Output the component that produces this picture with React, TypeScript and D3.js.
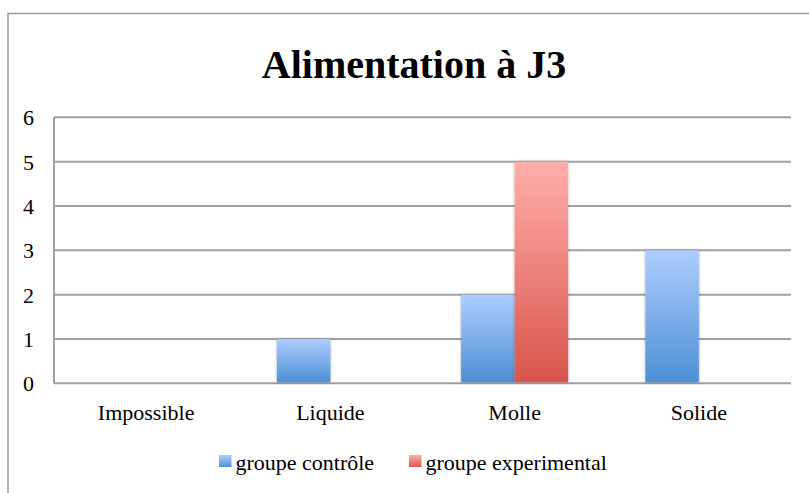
import React from "react";
import * as d3 from "d3";

const categories = ["Impossible", "Liquide", "Molle", "Solide"];
const seriesNames = ["groupe contrôle", "groupe experimental"];
const controle = [0, 1, 2, 3];
const experimental = [0, 0, 5, 0];
const yTicks = [0, 1, 2, 3, 4, 5, 6];
const title = "Alimentation à J3";

const W = 809;
const H = 493;
const plot = { left: 54, right: 791, top: 117.3, bottom: 383.3 };
const FONT = "Liberation Serif, Times New Roman, serif";
const SX = 1.1;

function T({
  x,
  y,
  anchor = "start",
  size = 20,
  weight = "normal",
  sx = SX,
  children,
}: {
  x: number;
  y: number;
  anchor?: string;
  size?: number;
  weight?: string;
  sx?: number;
  children: React.ReactNode;
}) {
  return (
    <text
      transform={`translate(${x},${y}) scale(${sx},1)`}
      textAnchor={anchor}
      fontFamily={FONT}
      fontSize={size}
      fontWeight={weight}
      fill="#000"
    >
      {children}
    </text>
  );
}

export default function App() {
  const x = d3
    .scaleBand<string>()
    .domain(categories)
    .range([plot.left, plot.right])
    .paddingInner(0)
    .paddingOuter(0);
  const y = d3.scaleLinear().domain([0, 6]).range([plot.bottom, plot.top]);
  const bw = 53.5;
  const series = [
    { name: seriesNames[0], values: controle, grad: "gBlue" },
    { name: seriesNames[1], values: experimental, grad: "gRed" },
  ];

  return (
    <svg
      width={W}
      height={H}
      style={{ position: "absolute", left: 0, top: 0, display: "block" }}
    >
      <defs>
        <linearGradient id="gBlue" x1="0" y1="0" x2="0" y2="1">
          <stop offset="0" stopColor="#aecdff" />
          <stop offset="1" stopColor="#4d8fd5" />
        </linearGradient>
        <linearGradient id="gRed" x1="0" y1="0" x2="0" y2="1">
          <stop offset="0" stopColor="#ffaeab" />
          <stop offset="1" stopColor="#d9554b" />
        </linearGradient>
        <filter id="sh" x="-20%" y="-20%" width="140%" height="140%">
          <feGaussianBlur in="SourceAlpha" stdDeviation="1.5" />
          <feComponentTransfer>
            <feFuncA type="linear" slope="0.35" />
          </feComponentTransfer>
          <feMerge>
            <feMergeNode />
            <feMergeNode in="SourceGraphic" />
          </feMerge>
        </filter>
      </defs>
      <rect x={0} y={0} width={W} height={H} fill="#fff" />
      <rect
        x={8}
        y={13.5}
        width={W + 20}
        height={H + 20}
        fill="#fff"
        stroke="#9a9a9a"
        strokeWidth={1.5}
      />
      <T x={414} y={77.5} anchor="middle" size={40} weight="bold" sx={1}>
        {title}
      </T>
      {yTicks.map((t) => (
        <line
          key={t}
          x1={plot.left}
          x2={plot.right}
          y1={y(t)}
          y2={y(t)}
          stroke="#a0a0a0"
          strokeWidth={2}
        />
      ))}
      <line
        x1={plot.left}
        x2={plot.left}
        y1={plot.top}
        y2={plot.bottom}
        stroke="#a0a0a0"
        strokeWidth={2}
      />
      {yTicks.map((t) => (
        <T key={t} x={28.5} y={y(t) + 8} anchor="middle">
          {t}
        </T>
      ))}
      {categories.map((c, i) => {
        const center = (x(c) as number) + x.bandwidth() / 2;
        const start = center - bw;
        return series.map((s, j) =>
          s.values[i] > 0 ? (
            <rect
              key={c + j}
              x={start + j * bw}
              y={y(s.values[i])}
              width={bw}
              height={y(0) - y(s.values[i]) - 1}
              fill={`url(#${s.grad})`}
              filter="url(#sh)"
            />
          ) : null
        );
      })}
      {categories.map((c) => (
        <T key={c} x={(x(c) as number) + x.bandwidth() / 2} y={420} anchor="middle">
          {c}
        </T>
      ))}
      {series.map((s, j) => {
        const lx = j === 0 ? 219 : 409;
        return (
          <g key={s.name}>
            <rect x={lx} y={455} width={12.5} height={12} fill={`url(#${s.grad})`} />
            <T x={lx + 16.5} y={469.5}>
              {s.name}
            </T>
          </g>
        );
      })}
    </svg>
  );
}
